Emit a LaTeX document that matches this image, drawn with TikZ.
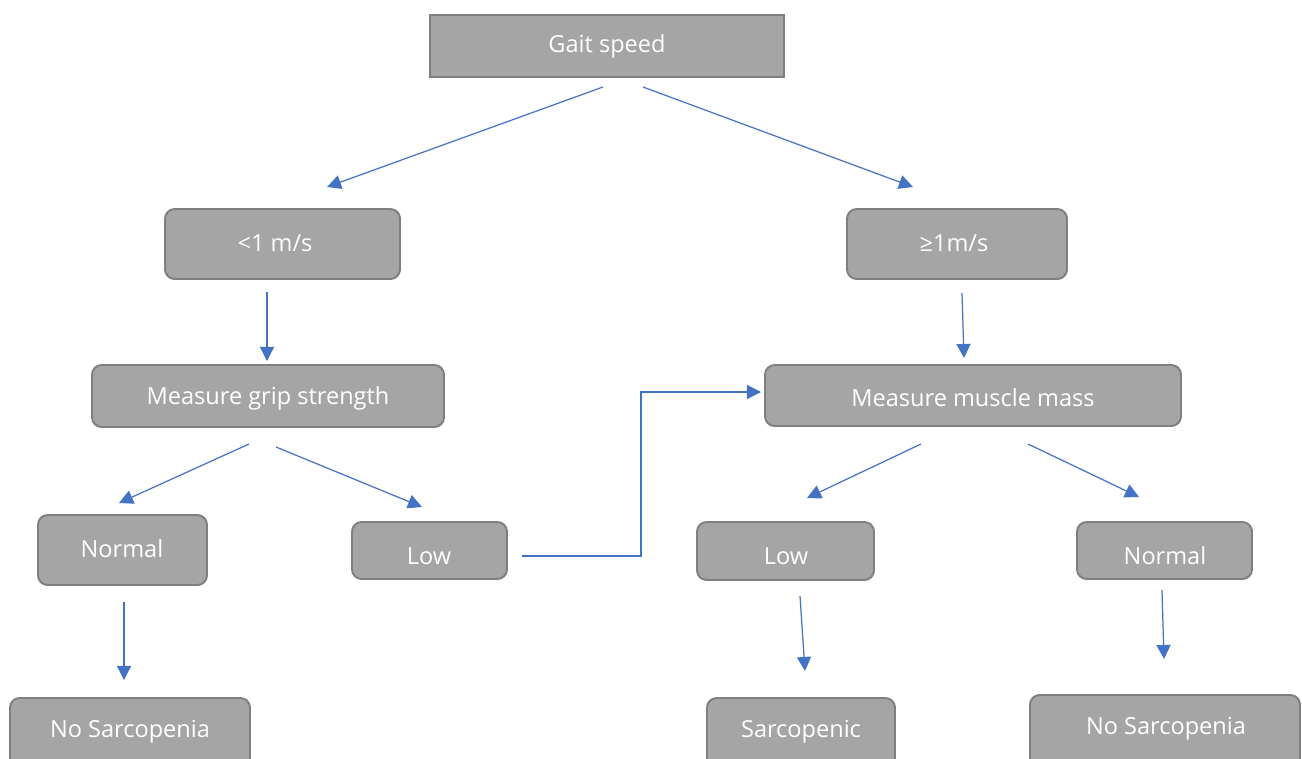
\documentclass[tikz,border=0pt]{standalone}
\usepackage{fontspec}
\setmainfont{Open Sans}
\usetikzlibrary{arrows.meta}
\definecolor{boxfill}{HTML}{A5A5A5}
\definecolor{boxline}{HTML}{7F7F7F}
\definecolor{arrowblue}{HTML}{4472C4}
\tikzset{
  px/.style={x=0.02cm,y=-0.02cm},
  box/.style={draw=boxline,fill=boxfill,line width=1.1pt,rounded corners=5.5pt},
  sqbox/.style={draw=boxline,fill=boxfill,line width=1.1pt},
  lbl/.style={text=white,font=\fontsize{13.4}{15}\selectfont,anchor=center,inner sep=0pt,yshift=-0.04cm},
  arr/.style={draw=arrowblue,line width=0.7pt,-{Triangle[width=8pt,length=8pt]}}
}
\begin{document}
\begin{tikzpicture}[px]
\useasboundingbox (0,0) rectangle (1302,758);
\clip (0,0) rectangle (1302,758);
% boxes
\draw[sqbox] (430,15) rectangle (784,77);
\node[lbl] (gait) at (607,44) {Gait speed};
\draw[box] (165,209) rectangle (400,279);
\node[lbl] (lt) at (275,241) {<1 m/s};
\draw[box] (847,209) rectangle (1067,279);
\node[lbl] (ge) at (954,241) {≥1m/s};
\draw[box] (92,365) rectangle (444,427);
\node[lbl] (grip) at (268,396) {Measure grip strength};
\draw[box] (765,365) rectangle (1181,426);
\node[lbl] (mass) at (973,396) {Measure muscle mass};
\draw[box] (38,515) rectangle (207,585);
\node[lbl] (normL) at (122,547) {Normal};
\draw[box] (352,522) rectangle (507,579);
\node[lbl] (lowL) at (429,554) {Low};
\draw[box] (697,522) rectangle (874,580);
\node[lbl] (lowR) at (786,554) {Low};
\draw[box] (1077,522) rectangle (1252,579);
\node[lbl] (normR) at (1165,554) {Normal};
\draw[box] (10,698) rectangle (250,790);
\node[lbl] (noSL) at (130,730) {No Sarcopenia};
\draw[box] (707,698) rectangle (895,790);
\node[lbl] (sarc) at (801,730) {Sarcopenic};
\draw[box] (1030,695) rectangle (1300,790);
\node[lbl] (noSR) at (1166,727) {No Sarcopenia};
% connector end points
\coordinate (a1s) at (603,87);  \coordinate (a1e) at (327,187);
\coordinate (a2s) at (643,87);  \coordinate (a2e) at (913,187);
\coordinate (a3s) at (267,292); \coordinate (a3e) at (267,361);
\coordinate (a4s) at (962,293); \coordinate (a4e) at (964,358);
\coordinate (a5s) at (249,444); \coordinate (a5e) at (119,503);
\coordinate (a6s) at (276,447); \coordinate (a6e) at (422,507);
\coordinate (a7s) at (921,444); \coordinate (a7e) at (807,498);
\coordinate (a8s) at (1028,444);\coordinate (a8e) at (1139,497);
\coordinate (a9s) at (124,602); \coordinate (a9e) at (124,680);
\coordinate (a10s) at (800,596);\coordinate (a10e) at (805,671);
\coordinate (a11s) at (1162,590);\coordinate (a11e) at (1164,659);
\coordinate (a12s) at (522,556);\coordinate (a12m1) at (641,556);
\coordinate (a12m2) at (641,392);\coordinate (a12e) at (761,392);
% connectors
\draw[arr] (a1s) -- (a1e);
\draw[arr] (a2s) -- (a2e);
\draw[arr] (a3s) -- (a3e);
\draw[arr] (a4s) -- (a4e);
\draw[arr] (a5s) -- (a5e);
\draw[arr] (a6s) -- (a6e);
\draw[arr] (a7s) -- (a7e);
\draw[arr] (a8s) -- (a8e);
\draw[arr] (a9s) -- (a9e);
\draw[arr] (a10s) -- (a10e);
\draw[arr] (a11s) -- (a11e);
\draw[arr] (a12s) -- (a12m1) -- (a12m2) -- (a12e);
\end{tikzpicture}
\end{document}
